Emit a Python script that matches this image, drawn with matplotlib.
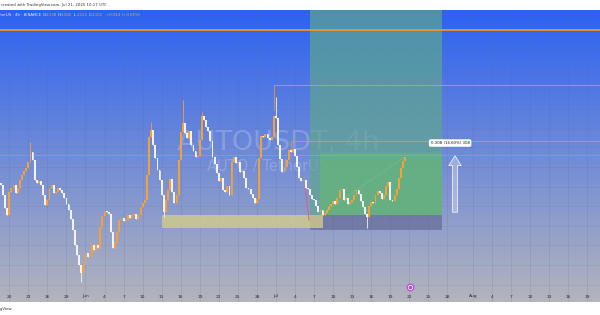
import numpy as np
import matplotlib.pyplot as plt
import matplotlib.dates as mdates

# 8h closes (AUTO / TetherUS, Binance)
closes = [
    2.018, 2.008, 1.957, 1.891, 1.855, 1.972, 1.993, 2.008, 1.967, 1.993,
    2.033, 2.059, 2.079, 2.095, 2.125, 2.176, 2.135, 2.033, 2.018, 2.028,
    2.008, 1.957, 1.906, 1.932, 1.993, 2.008, 1.967, 1.972, 1.993, 1.985,
    1.967, 1.942, 1.911, 1.880, 1.835, 1.778, 1.702, 1.651, 1.600, 1.559,
    1.600, 1.661, 1.641, 1.651, 1.702, 1.676, 1.702, 1.687, 1.794, 1.850,
    1.875, 1.870, 1.860, 1.768, 1.687, 1.717, 1.768, 1.829, 1.840, 1.824,
    1.829, 1.855, 1.840, 1.855, 1.860, 1.835, 1.855, 1.896, 1.916, 1.932,
    2.059, 2.253, 2.288, 2.212, 2.146, 2.085, 2.033, 1.957, 1.870, 1.932,
    1.982, 2.039, 1.972, 1.916, 1.957, 2.135, 2.278, 2.324, 2.273, 2.248,
    2.283, 2.212, 2.181, 2.151, 2.156, 2.237, 2.360, 2.340, 2.304, 2.283,
    2.232, 2.151, 2.115, 2.069, 2.028, 2.044, 1.982, 1.972, 2.003, 1.957,
    2.125, 2.151, 2.120, 2.125, 2.074, 2.080, 2.044, 1.993, 1.988, 1.962,
    1.942, 1.916, 1.937, 2.146, 2.258, 2.253, 2.268, 2.248, 2.240, 2.255,
    2.360, 2.350, 2.212, 2.141, 2.074, 2.100, 2.135, 2.186, 2.176, 2.192,
    2.156, 2.100, 2.044, 2.028, 2.033, 1.993, 1.988, 1.957, 1.937, 1.930,
    1.901, 1.870, 1.880, 1.855, 1.865, 1.880, 1.901, 1.911, 1.926, 1.911,
    1.942, 1.982, 1.988, 1.932, 1.940, 1.911, 1.921, 1.932, 1.957, 1.982,
    1.962, 1.926, 1.896, 1.860, 1.845, 1.901, 1.921, 1.915, 1.957, 1.977,
    1.967, 1.937, 1.957, 2.003, 2.023, 1.932, 1.926, 1.957, 1.988, 2.044,
    2.095, 2.130, 2.152,
]
first_open = 2.030
start = np.datetime64('2025-05-18T08:00')

# wick extremes that stick out of the bodies
wick_highs = {15: 2.227, 72: 2.329, 87: 2.442, 96: 2.380, 131: 2.457}
wick_lows = {39: 1.513, 78: 1.845, 174: 1.789}

tick_dates = ['2025-05-20', '2025-05-23', '2025-05-26', '2025-05-29', '2025-06-01',
              '2025-06-04', '2025-06-07', '2025-06-10', '2025-06-13', '2025-06-16',
              '2025-06-19', '2025-06-22', '2025-06-25', '2025-06-28', '2025-07-01',
              '2025-07-04', '2025-07-07', '2025-07-10', '2025-07-13', '2025-07-16',
              '2025-07-19', '2025-07-22', '2025-07-25', '2025-07-28', '2025-08-01',
              '2025-08-04', '2025-08-07', '2025-08-10', '2025-08-13', '2025-08-16',
              '2025-08-19']
tick_labels = ['20', '23', '26', '29', 'Jun', '4', '7', '10', '13', '16', '19', '22',
               '25', '28', 'Jul', '4', '7', '10', '13', '16', '19', '22', '25', '28',
               'Aug', '4', '7', '10', '13', '16', '19']

# drawn levels
top_line = 2.798
box_high = 2.518
box_mid = 2.232
last_line = 2.163
entry = 1.855
target_hit = 2.171
stop = 1.778
zone_low, zone_high = 1.789, 1.855
move_text = '0.308 (16.60%) 308'


def d(s):
    return mdates.date2num(np.datetime64(s))


n = len(closes)
times = start + np.arange(n) * np.timedelta64(8, 'h')
x = mdates.date2num(times)
c = np.array(closes)
o = np.concatenate([[first_open], c[:-1]])
hi = np.maximum(o, c)
lo = np.minimum(o, c)
for k, v in wick_highs.items():
    hi[k] = v
for k, v in wick_lows.items():
    lo[k] = v

fig = plt.figure(figsize=(6, 3.15), dpi=100)
fig.patch.set_facecolor('white')
ax = fig.add_axes([0, 13 / 315, 1, 292 / 315])
jul1 = d('2025-07-01')
ax.set_xlim(jul1 - 43.46, jul1 + 51.02)
ax.set_ylim(1.4113, 2.9005)
for s in ax.spines.values():
    s.set_visible(False)
ax.set_yticks([])

# background gradient
top_c = np.array([44, 98, 242]) / 255
bot_c = np.array([180, 180, 188]) / 255
t = np.linspace(0, 1, 256)[:, None]
grad = (top_c * (1 - t) + bot_c * t)[:, None, :]
ax.imshow(grad, extent=(0, 1, 0, 1), transform=ax.transAxes, aspect='auto', zorder=0)

# grid
for td in tick_dates:
    ax.axvline(d(td), color='#5a6890', alpha=0.18, lw=0.6, zorder=1)
for p in np.arange(1.5, 2.9, 0.1):
    ax.axhline(p, color='#5a6890', alpha=0.12, lw=0.6, zorder=1)

# watermark
ax.text(d('2025-07-01T08:00'), 2.222, 'AUTOUSDT, 4h', fontsize=19.5, color='white',
        alpha=0.2, ha='center', va='center', zorder=1)
ax.text(d('2025-06-29T18:00'), 2.100, 'AUTO / TetherUS', fontsize=10.5, color='white',
        alpha=0.2, ha='center', va='center', zorder=1)

# long position tool
p0, p1 = d('2025-07-06T08:00'), d('2025-07-27T03:00')
g0 = d('2025-07-07T22:00')
ax.fill_between([p0, p1], entry, 3.2, color='#5fa88c', alpha=0.68, lw=0, zorder=2)
ax.fill_between([g0, p1], entry, target_hit, color='#66b47a', alpha=0.75, lw=0, zorder=2)
ax.fill_between([p0, p1], stop, entry, color='#5a5f8a', alpha=0.55, lw=0, zorder=2)

# demand zone
ax.fill_between([d('2025-06-13T01:00'), d('2025-07-08T09:00')], zone_low, zone_high,
                color='#d8cf86', alpha=0.75, lw=0, zorder=2)

# lines
ax.axhline(top_line, color='#f0922b', lw=1.3, zorder=3)
ax.axhline(last_line, color='#f0a050', lw=0.6, alpha=0.45, zorder=3)
v1, v2 = d('2025-06-30T16:30'), d('2025-07-03T10:00')
ax.plot([v1, v1, ax.get_xlim()[1]], [2.39, box_high, box_high], color='#e8963c',
        lw=0.8, alpha=0.8, zorder=3)
ax.plot([v2, v2, ax.get_xlim()[1]], [2.186, box_mid, box_mid], color='#e8963c',
        lw=0.8, alpha=0.8, zorder=3)
ax.plot([d('2025-07-05T14:00'), d('2025-07-06T05:00')], [2.0, 1.83], color='#e0607a',
        lw=0.7, zorder=3)
ax.plot([g0, x[-1]], [entry, closes[-1]], color='white', ls=':', lw=0.5, alpha=0.3,
        zorder=3)

# candles
up = c >= o
for mask, col in ((up, '#f7a035'), (~up, '#f2f2f8')):
    ax.vlines(x[mask], lo[mask], hi[mask], color=col, lw=0.6, zorder=4)
    ax.bar(x[mask], np.maximum(np.abs(c - o)[mask], 0.003), bottom=np.minimum(o, c)[mask],
           width=0.29, color=col, lw=0, zorder=4)

# measure arrow and label
xa = d('2025-07-29T04:30')
ax.annotate('', xy=(xa, target_hit), xytext=(xa, entry),
            arrowprops=dict(arrowstyle='simple,head_width=0.9,head_length=0.7,tail_width=0.35',
                            fc=(1, 1, 1, 0.3), ec=(1, 1, 1, 0.85), lw=0.6), zorder=5)
ax.text(d('2025-07-28T10:00'), 2.222, move_text, fontsize=2.8, color='#131722',
        ha='center', va='center', zorder=6,
        bbox=dict(boxstyle='round,pad=0.45', fc='white', ec='none'))

# event marker
ax.scatter([d('2025-07-22T03:00')], [1.488], s=22, facecolor='white', edgecolor='#b44fe0',
           lw=0.9, zorder=6)
ax.scatter([d('2025-07-22T03:00')], [1.488], s=3, color='#b44fe0', zorder=7)

# time axis
ax.set_xticks([d(td) for td in tick_dates])
ax.set_xticklabels(tick_labels, fontsize=3.2, color='#2a2e39')
ax.tick_params(axis='x', length=0, pad=-5.4)

# header / legend / footer (cut at the left edge like the screenshot)
fig.text(1 / 600, 1 - 5 / 315, 'created with TradingView.com, Jul 21, 2025 10:17 UTC',
         fontsize=2.8, color='#333333', va='center')
fig.text(41 / 600, 1 - 15 / 315, 'AUTO / TetherUS · 4h · BINANCE', fontsize=2.8,
         color='#e6ebff', va='center', ha='right')
legend_parts = [(43, 'O', '#e6ebff'), (46, '2.138', '#f7a035'),
                (58, 'H', '#e6ebff'), (61, '2.166', '#f7a035'),
                (74, 'L', '#e6ebff'), (77, '2.121', '#f7a035'),
                (89, 'C', '#e6ebff'), (92, '2.152', '#f7a035'),
                (106, '+0.014 (+0.65%)', '#f7a035')]
for px, txt, col in legend_parts:
    fig.text(px / 600, 1 - 15 / 315, txt, fontsize=2.8, color=col, va='center')
fig.text(12 / 600, 6 / 315, 'TradingView', fontsize=2.8, color='#333333', va='center',
         ha='right')

fig.savefig('out.png', dpi=100)
